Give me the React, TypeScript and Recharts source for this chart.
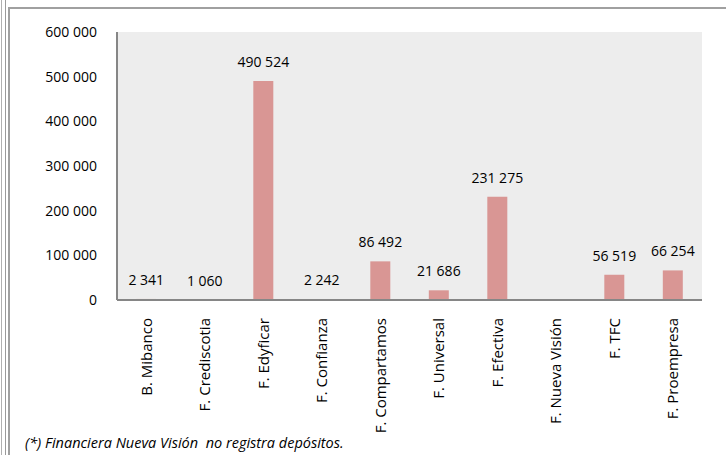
import React from "react";
import {
  BarChart,
  Bar,
  XAxis,
  YAxis,
  CartesianGrid,
  LabelList,
} from "recharts";

const entities = [
  "B. Mibanco",
  "F. Crediscotia",
  "F. Edyficar",
  "F. Confianza",
  "F. Compartamos",
  "F. Universal",
  "F. Efectiva",
  "F. Nueva Visión",
  "F. TFC",
  "F. Proempresa",
];
const deposits = [2341, 1060, 490524, 2242, 86492, 21686, 231275, 0, 56519, 66254];
const yTicks = [0, 100000, 200000, 300000, 400000, 500000, 600000];
const footnote = "(*) Financiera Nueva Visión  no registra depósitos.";

const data = entities.map((name, i) => ({ name, value: deposits[i] }));

const FONT = "'Open Sans', sans-serif";

// thousands separated by a non-breaking space so labels don't wrap
const fmt = (v: number) => String(v).replace(/\B(?=(\d{3})+(?!\d))/g, "\u00A0");

const RotatedTick = (props: any) => {
  const { x, y, payload } = props;
  const ty = y + 10;
  return (
    <text
      x={x}
      y={ty}
      transform={`rotate(-90, ${x}, ${ty})`}
      textAnchor="end"
      dy="0.35em"
      fontSize={15}
      fontFamily={FONT}
      fill="#000"
    >
      {payload.value}
    </text>
  );
};

export default function App() {
  return (
    <div
      style={{
        position: "absolute",
        left: 0,
        top: 0,
        width: 726,
        height: 455,
        overflow: "hidden",
        background: "#fff",
      }}
    >
      {/* frame lines */}
      <div style={{ position: "absolute", left: 1, top: 0, width: 1, height: 455, background: "#b0b0b0" }} />
      <div style={{ position: "absolute", left: 5, top: 0, width: 1, height: 455, background: "#9a9a9a" }} />
      <div
        style={{
          position: "absolute",
          left: 8,
          top: 7,
          width: 730,
          height: 460,
          borderLeft: "2px solid #a0a0a0",
          borderTop: "2px solid #a0a0a0",
          boxSizing: "border-box",
        }}
      />

      <div style={{ position: "absolute", left: 0, top: 0 }}>
        <BarChart
          width={726}
          height={455}
          data={data}
          margin={{ top: 32, right: 24, left: 0, bottom: 0 }}
          barCategoryGap="33%"
        >
          <CartesianGrid horizontal={false} vertical={false} fill="#ededed" />
          <XAxis
            dataKey="name"
            height={155}
            interval={0}
            tickLine={false}
            axisLine={{ stroke: "#868686", strokeWidth: 2 }}
            tick={<RotatedTick />}
          />
          <YAxis
            width={117}
            domain={[0, 600000]}
            ticks={yTicks}
            interval={0}
            tickLine={false}
            tickSize={0}
            tickMargin={20}
            axisLine={{ stroke: "#868686", strokeWidth: 2 }}
            tickFormatter={(v: number) => fmt(v)}
            tick={{ fontSize: 14, fontFamily: FONT, fill: "#000" }}
          />
          <Bar dataKey="value" fill="#d99694" isAnimationActive={false}>
            <LabelList
              dataKey="value"
              position="top"
              offset={14}
              formatter={(v: any) => (v ? fmt(v) : "")}
              style={{ fontSize: 14, fontFamily: FONT, fill: "#000" }}
            />
          </Bar>
        </BarChart>
      </div>

      <div
        style={{
          position: "absolute",
          left: 25,
          top: 434,
          fontFamily: FONT,
          fontStyle: "italic",
          fontSize: 14.5,
          lineHeight: "18px",
          whiteSpace: "pre",
          color: "#000",
        }}
      >
        {footnote}
      </div>
    </div>
  );
}
